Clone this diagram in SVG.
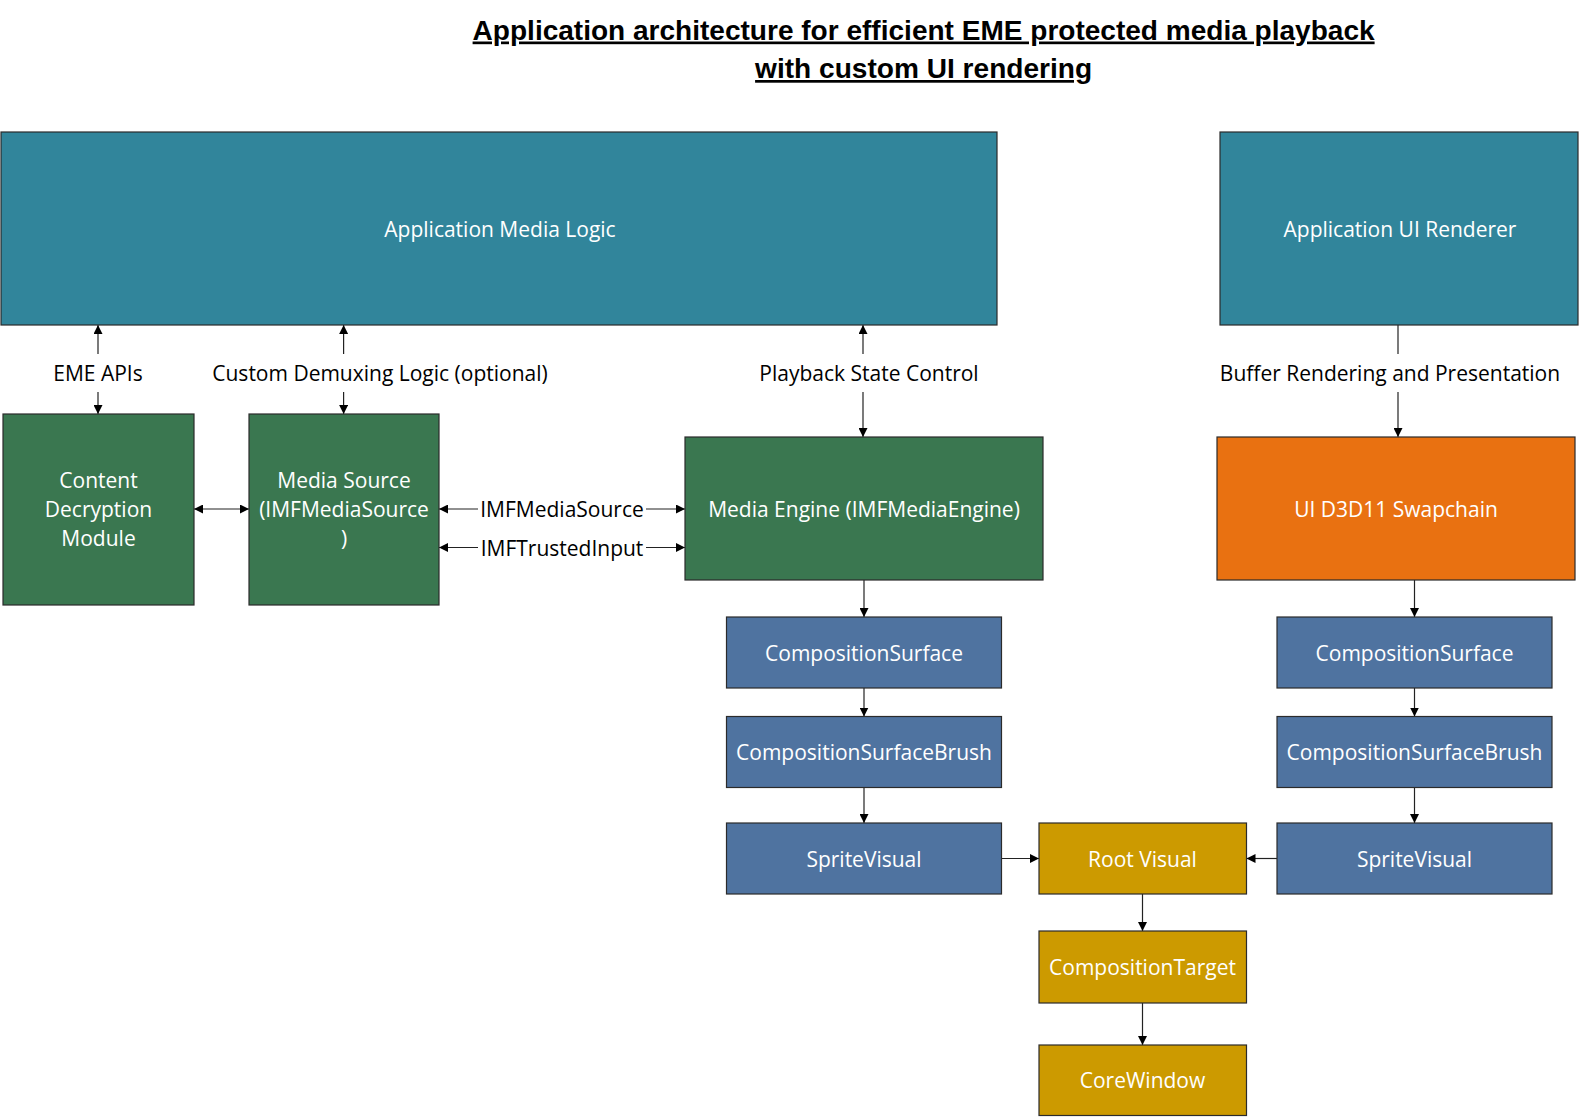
<svg xmlns="http://www.w3.org/2000/svg" width="1580" height="1117" viewBox="0 0 1580 1117">
<defs>
<style>
.title{font-family:"Liberation Sans",Arial,sans-serif;font-weight:bold;font-size:27px;fill:#000;text-decoration:underline}
.box{stroke:#2b2b2b;stroke-width:1.2}
.teal{fill:#31859b}
.green{fill:#3a7750}
.blue{fill:#4f73a0}
.orange{fill:#e97111}
.gold{fill:#cc9a00}
.nt{font-family:"Open Sans","Noto Sans",sans-serif;font-size:21px;fill:#fff;text-anchor:middle;dominant-baseline:central}
.lt{font-family:"Open Sans","Noto Sans",sans-serif;font-size:21px;fill:#000;text-anchor:middle;dominant-baseline:central}
.c{stroke:#222;stroke-width:1.2;fill:none}
</style>
<marker id="ah" viewBox="0 0 10 10" refX="10" refY="5" markerWidth="9" markerHeight="9" markerUnits="userSpaceOnUse" orient="auto-start-reverse">
<path d="M0,0 L10,5 L0,10 z" fill="#000"/>
</marker>
</defs>
<rect width="1580" height="1117" fill="#fff"/>
<g id="title">
<text class="title" x="923.6" y="39.5" text-anchor="middle" textLength="902" lengthAdjust="spacingAndGlyphs">Application architecture for efficient EME protected media playback</text>
<text class="title" x="923.6" y="78" text-anchor="middle" textLength="337" lengthAdjust="spacingAndGlyphs">with custom UI rendering</text>
</g>
<g id="connectors">
<line class="c" x1="98" y1="354" x2="98" y2="325" marker-end="url(#ah)"/>
<line class="c" x1="98" y1="392" x2="98" y2="414" marker-end="url(#ah)"/>
<line class="c" x1="343.6" y1="354" x2="343.6" y2="325" marker-end="url(#ah)"/>
<line class="c" x1="343.6" y1="392" x2="343.6" y2="414" marker-end="url(#ah)"/>
<line class="c" x1="863" y1="354" x2="863" y2="325" marker-end="url(#ah)"/>
<line class="c" x1="863" y1="392" x2="863" y2="437" marker-end="url(#ah)"/>
<line class="c" x1="1398" y1="325" x2="1398" y2="354"/>
<line class="c" x1="1398" y1="392" x2="1398" y2="437" marker-end="url(#ah)"/>
<line class="c" x1="194" y1="509" x2="249" y2="509" marker-start="url(#ah)" marker-end="url(#ah)"/>
<line class="c" x1="439" y1="509" x2="478" y2="509" marker-start="url(#ah)"/>
<line class="c" x1="646" y1="509" x2="685" y2="509" marker-end="url(#ah)"/>
<line class="c" x1="439" y1="547.5" x2="478" y2="547.5" marker-start="url(#ah)"/>
<line class="c" x1="646" y1="547.5" x2="685" y2="547.5" marker-end="url(#ah)"/>
<line class="c" x1="864" y1="580" x2="864" y2="617" marker-end="url(#ah)"/>
<line class="c" x1="864" y1="688" x2="864" y2="716.5" marker-end="url(#ah)"/>
<line class="c" x1="864" y1="787.5" x2="864" y2="823" marker-end="url(#ah)"/>
<line class="c" x1="1414.5" y1="580" x2="1414.5" y2="617" marker-end="url(#ah)"/>
<line class="c" x1="1414.5" y1="688" x2="1414.5" y2="716.5" marker-end="url(#ah)"/>
<line class="c" x1="1414.5" y1="787.5" x2="1414.5" y2="823" marker-end="url(#ah)"/>
<line class="c" x1="1001.5" y1="858.5" x2="1039" y2="858.5" marker-end="url(#ah)"/>
<line class="c" x1="1277" y1="858.5" x2="1246.5" y2="858.5" marker-end="url(#ah)"/>
<line class="c" x1="1142.5" y1="894" x2="1142.5" y2="931" marker-end="url(#ah)"/>
<line class="c" x1="1142.5" y1="1003" x2="1142.5" y2="1045" marker-end="url(#ah)"/>
<text class="lt" x="98" y="373">EME APIs</text>
<text class="lt" x="380" y="373">Custom Demuxing Logic (optional)</text>
<text class="lt" x="869" y="373">Playback State Control</text>
<text class="lt" x="1390" y="373">Buffer Rendering and Presentation</text>
<text class="lt" x="562" y="509">IMFMediaSource</text>
<text class="lt" x="562" y="547.5">IMFTrustedInput</text>
</g>
<g id="app-media-logic"><rect class="box teal" x="1" y="132" width="996" height="193"/><text class="nt" x="500" y="229">Application Media Logic</text></g>
<g id="app-ui-renderer"><rect class="box teal" x="1220" y="132" width="358" height="193"/><text class="nt" x="1400" y="229">Application UI Renderer</text></g>
<g id="cdm"><rect class="box green" x="3" y="414" width="191" height="191"/>
<text class="nt" x="98.5" y="480">Content</text><text class="nt" x="98.5" y="509">Decryption</text><text class="nt" x="98.5" y="538">Module</text></g>
<g id="media-source"><rect class="box green" x="249" y="414" width="190" height="191"/>
<text class="nt" x="344" y="480">Media Source</text><text class="nt" x="344" y="509">(IMFMediaSource</text><text class="nt" x="344" y="538">)</text></g>
<g id="media-engine"><rect class="box green" x="685" y="437" width="358" height="143"/><text class="nt" x="864" y="509">Media Engine (IMFMediaEngine)</text></g>
<g id="swapchain"><rect class="box orange" x="1217" y="437" width="358" height="143"/><text class="nt" x="1396" y="509">UI D3D11 Swapchain</text></g>
<g id="cs-left"><rect class="box blue" x="726.5" y="617" width="275" height="71"/><text class="nt" x="864" y="652.5">CompositionSurface</text></g>
<g id="csb-left"><rect class="box blue" x="726.5" y="716.5" width="275" height="71"/><text class="nt" x="864" y="752">CompositionSurfaceBrush</text></g>
<g id="sv-left"><rect class="box blue" x="726.5" y="823" width="275" height="71"/><text class="nt" x="864" y="858.5">SpriteVisual</text></g>
<g id="cs-right"><rect class="box blue" x="1277" y="617" width="275" height="71"/><text class="nt" x="1414.5" y="652.5">CompositionSurface</text></g>
<g id="csb-right"><rect class="box blue" x="1277" y="716.5" width="275" height="71"/><text class="nt" x="1414.5" y="752">CompositionSurfaceBrush</text></g>
<g id="sv-right"><rect class="box blue" x="1277" y="823" width="275" height="71"/><text class="nt" x="1414.5" y="858.5">SpriteVisual</text></g>
<g id="root-visual"><rect class="box gold" x="1039" y="823" width="207.5" height="71"/><text class="nt" x="1142.5" y="858.5">Root Visual</text></g>
<g id="composition-target"><rect class="box gold" x="1039" y="931" width="207.5" height="72"/><text class="nt" x="1142.5" y="967">CompositionTarget</text></g>
<g id="core-window"><rect class="box gold" x="1039" y="1045" width="207.5" height="70.5"/><text class="nt" x="1142.5" y="1080">CoreWindow</text></g>
</svg>
